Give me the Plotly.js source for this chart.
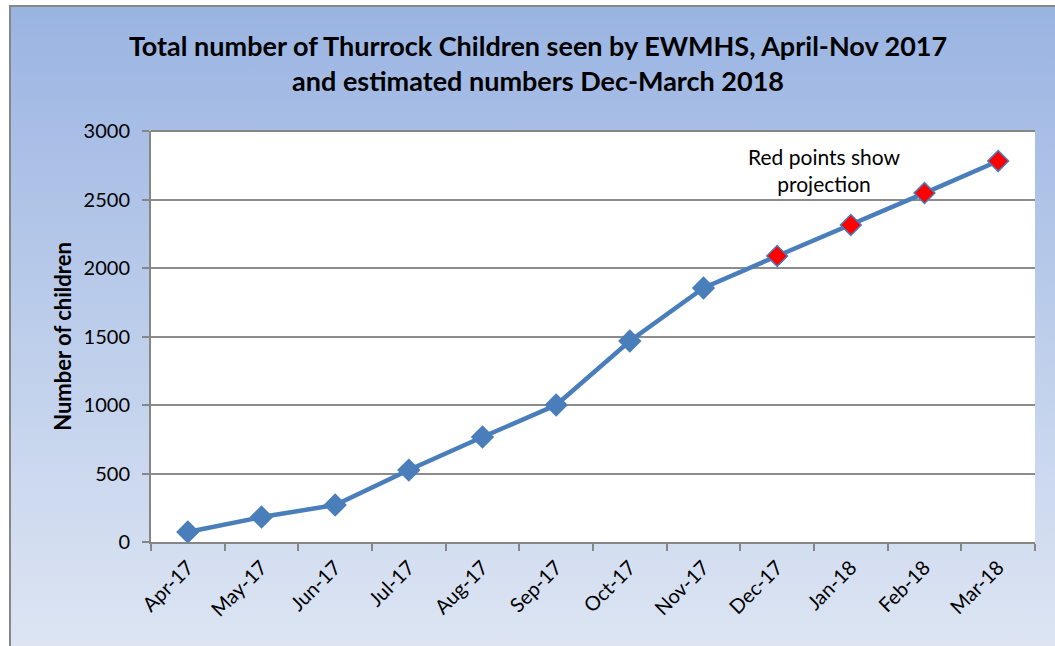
<!DOCTYPE html>
<html>
<head>
<meta charset="utf-8">
<script src="https://cdn.plot.ly/plotly-3.0.1.min.js"></script>
<style>
  html, body { margin: 0; padding: 0; background: #ffffff; }
  #fond {
    position: absolute; left: 9px; top: 5px; width: 1046px; height: 641px;
    border-left: 2px solid #878787; border-top: 2px solid #878787;
    background: linear-gradient(to bottom, #9ab4e2 0%, #b9cbea 45%, #dde5f3 100%);
  }
  #graphique { position: absolute; left: 0; top: 0; width: 1055px; height: 646px; }
</style>
</head>
<body>
<div id="fond"></div>
<div id="graphique"></div>
<script>
const mois = ["Apr-17", "May-17", "Jun-17", "Jul-17", "Aug-17", "Sep-17",
              "Oct-17", "Nov-17", "Dec-17", "Jan-18", "Feb-18", "Mar-18"];
const enfants = [73, 182, 270, 525, 766, 1000, 1467, 1854, 2088, 2314, 2547, 2781];
const projete = [false, false, false, false, false, false, false, false, true, true, true, true];

const bleu = "#4a7ebb";
const police = "Lato, 'Open Sans', sans-serif";

Plotly.newPlot("graphique", [{
  x: mois,
  y: enfants,
  type: "scatter",
  mode: "lines+markers",
  line: { color: bleu, width: 4.5 },
  marker: {
    symbol: "diamond",
    opacity: 1,
    size: projete.map(p => p ? 16 : 18),
    color: projete.map(p => p ? "#ff0000" : bleu),
    line: { color: bleu, width: projete.map(p => p ? 1.5 : 0) }
  },
  hoverinfo: "x+y"
}], {
  width: 1055,
  height: 646,
  paper_bgcolor: "rgba(0,0,0,0)",
  plot_bgcolor: "#ffffff",
  margin: { l: 151, r: 20, t: 131, b: 104 },
  font: { family: police, color: "#000000" },
  showlegend: false,
  title: {
    text: "<b>Total number of Thurrock Children seen by EWMHS, April-Nov 2017<br>and estimated numbers Dec-March 2018</b>",
    font: { size: 27, family: police },
    x: 0.51, xanchor: "center",
    y: 0.914, yanchor: "middle"
  },
  xaxis: {
    type: "category",
    range: [-0.5, 11.5],
    tickangle: -45,
    tickfont: { size: 20 },
    ticks: "outside",
    tickson: "boundaries",
    ticklen: 7,
    tickcolor: "#868686",
    tickwidth: 1.5,
    ticklabelstandoff: 4,
    showline: true,
    linecolor: "#868686",
    linewidth: 2,
    showgrid: false,
    zeroline: false,
    fixedrange: true
  },
  yaxis: {
    range: [0, 3000],
    dtick: 500,
    tickfont: { size: 20 },
    ticks: "outside",
    ticklen: 7,
    tickcolor: "#868686",
    tickwidth: 1.5,
    ticklabelstandoff: 8,
    showline: true,
    linecolor: "#868686",
    linewidth: 2,
    showgrid: true,
    gridcolor: "#8c8c8c",
    gridwidth: 1.5,
    zeroline: false,
    title: { text: "<b>Number of children</b>", font: { size: 22 }, standoff: 6 },
    fixedrange: true
  },
  shapes: [
    { type: "line", xref: "paper", yref: "paper", x0: 0, x1: 1, y0: 1, y1: 1,
      line: { color: "#868686", width: 2 } }
  ],
  annotations: [{
    text: "Red points show<br>projection",
    xref: "paper", yref: "paper",
    x: 0.762, y: 0.905,
    xanchor: "center", yanchor: "middle",
    showarrow: false,
    font: { size: 21, family: police }
  }]
}, { displayModeBar: false });
</script>
</body>
</html>
